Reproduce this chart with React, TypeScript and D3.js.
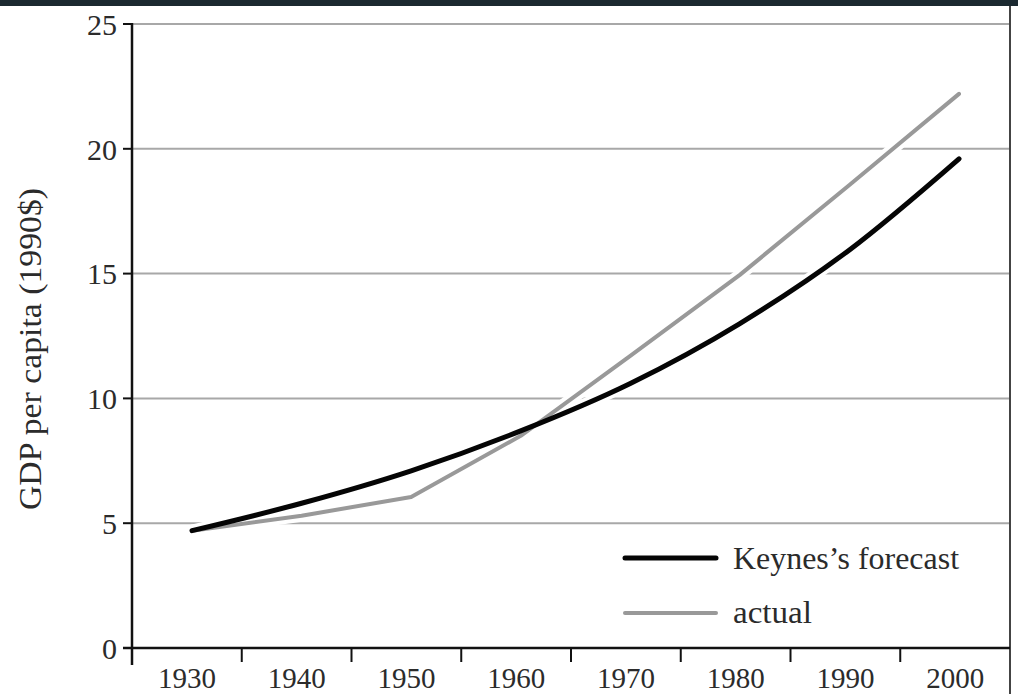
import React from "react";
import * as d3 from "d3";

const years = [1930, 1940, 1950, 1960, 1970, 1980, 1990, 2000];
const keynesForecast = [4.7, 5.8, 7.1, 8.7, 10.6, 13.0, 15.95, 19.6];
const actualGdp = [4.7, 5.3, 6.05, 8.5, 11.7, 14.95, 18.55, 22.2];
const yTicks = [0, 5, 10, 15, 20, 25];
const yLabel = "GDP per capita (1990$)";
const legendLabels = ["Keynes\u2019s forecast", "actual"];

const W = 1018;
const H = 694;
const FONT = "'Liberation Serif', 'Times New Roman', serif";

export default function App() {
  const left = 132;
  const right = 1010;
  const top = 24;
  const bottom = 648;

  const xBand = d3.scaleBand<number>().domain(years).range([left, right]).padding(0);
  const xData = d3.scaleLinear().domain([1930, 2000]).range([192, 959]);
  const y = d3.scaleLinear().domain([0, 25]).range([bottom, top]);

  const smooth = d3
    .line<number>()
    .x((_, i) => xData(years[i]))
    .y((v) => y(v))
    .curve(d3.curveMonotoneX);
  const straight = d3
    .line<number>()
    .x((_, i) => xData(years[i]))
    .y((v) => y(v))
    .curve(d3.curveLinear);

  const keynesPath = smooth(keynesForecast) || "";
  const actualPath = straight(actualGdp) || "";

  const bandEdges = years.map((yr) => xBand(yr) as number).concat([right]);
  const textColor = "#2b2b2b";

  return (
    <svg
      width={W}
      height={H}
      style={{ position: "absolute", left: 0, top: 0, background: "#fff" }}
      fontFamily={FONT}
    >
      <rect x={0} y={0} width={W} height={6} fill="#1b2930" />

      {yTicks
        .filter((t) => t > 0)
        .map((t) => (
          <line
            key={"g" + t}
            x1={left}
            x2={right}
            y1={y(t)}
            y2={y(t)}
            stroke="#a8a8a8"
            strokeWidth={2}
          />
        ))}

      <line x1={right} x2={right} y1={6} y2={H} stroke="#444" strokeWidth={2} />

      <path d={actualPath} fill="none" stroke="#fff" strokeWidth={12} strokeLinecap="round" strokeLinejoin="round" />
      <path d={keynesPath} fill="none" stroke="#fff" strokeWidth={12} strokeLinecap="round" />

      <path d={actualPath} fill="none" stroke="#999" strokeWidth={4} strokeLinecap="round" strokeLinejoin="round" />
      <path d={keynesPath} fill="none" stroke="#050505" strokeWidth={5} strokeLinecap="round" />

      <line x1={left} x2={left} y1={top - 1} y2={665} stroke="#111" strokeWidth={2.5} />
      {yTicks.map((t) => (
        <g key={"yt" + t}>
          <line x1={left - 9} x2={left} y1={y(t)} y2={y(t)} stroke="#111" strokeWidth={2} />
          <text x={117} y={y(t)} dy="0.36em" textAnchor="end" fontSize={30} fill={textColor}>
            {t}
          </text>
        </g>
      ))}

      <line x1={left - 9} x2={right} y1={bottom} y2={bottom} stroke="#111" strokeWidth={2.5} />
      {bandEdges.slice(1, -1).map((e, i) => (
        <line key={"xt" + i} x1={e} x2={e} y1={bottom} y2={bottom + 14} stroke="#111" strokeWidth={2} />
      ))}
      {years.map((yr) => (
        <text
          key={"xl" + yr}
          x={(xBand(yr) as number) + xBand.bandwidth() / 2}
          y={688}
          textAnchor="middle"
          fontSize={29}
          fill={textColor}
        >
          {yr}
        </text>
      ))}

      <text
        transform={`translate(41, 349) rotate(-90)`}
        textAnchor="middle"
        fontSize={31}
        fill={textColor}
        textLength={322}
        lengthAdjust="spacingAndGlyphs"
      >
        {yLabel}
      </text>

      <line x1={625} x2={716} y1={558} y2={558} stroke="#050505" strokeWidth={5} strokeLinecap="round" />
      <text x={733} y={569} fontSize={31} fill={textColor} textLength={226} lengthAdjust="spacingAndGlyphs">
        {legendLabels[0]}
      </text>
      <line x1={625} x2={716} y1={613} y2={613} stroke="#999" strokeWidth={4} strokeLinecap="round" />
      <text x={733} y={623} fontSize={31} fill={textColor} textLength={79} lengthAdjust="spacingAndGlyphs">
        {legendLabels[1]}
      </text>
    </svg>
  );
}
